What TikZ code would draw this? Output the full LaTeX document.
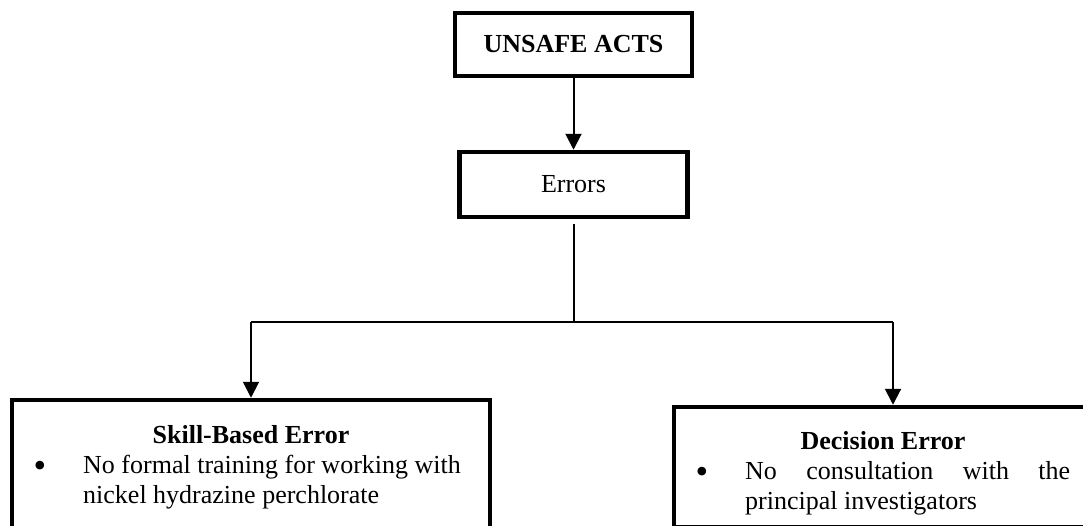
\documentclass[tikz,border=0pt]{standalone}
\usepackage{fontspec}
\setmainfont{Liberation Serif}
\usetikzlibrary{arrows.meta,calc}
\begin{document}
\begin{tikzpicture}[x=1pt,y=-1pt,
  box/.style={draw, line width=4.5pt, rectangle, inner sep=0pt},
  conn/.style={line width=2pt, -{Triangle[width=16pt,length=16pt]}},
  link/.style={line width=2pt},
  txt/.style={font=\fontsize{26}{30}\selectfont, inner sep=0pt},
  bul/.style={font=\fontsize{36}{36}\selectfont, inner sep=0pt}]
\useasboundingbox (0,0) rectangle (1083,525);
\fill[white] (0,0) rectangle (1083,525);
% top boxes
\node[box, txt, minimum width=237pt, minimum height=63pt] (unsafe) at (573.5,44.5) {\textbf{UNSAFE ACTS}};
\node[box, txt, minimum width=228pt, minimum height=65pt] (errors) at (573.5,184.5) {Errors};
% bottom boxes
\node[box, minimum width=478pt, minimum height=170pt] (skill) at (251,485) {};
\node[box, minimum width=418pt, minimum height=120pt] (decision) at (883,467) {};
% left box text
\node[txt, anchor=base] (skilltitle) at (251,443) {\textbf{Skill-Based Error}};
\node[bul, anchor=base] (skillbullet) at (40,477) {\textbullet};
\node[txt, anchor=base west] (skillline1) at (83,473) {No formal training for working with};
\node[txt, anchor=base west] (skillline2) at (83,503) {nickel hydrazine perchlorate};
% right box text
\node[txt, anchor=base] (dectitle) at (883,449) {\textbf{Decision Error}};
\node[bul, anchor=base] (decbullet) at (702,483) {\textbullet};
\node[txt, anchor=base west] (decline1) at (745,479) {\makebox[325pt][s]{No consultation with the}};
\node[txt, anchor=base west] (decline2) at (745,509) {principal investigators};
% connectors
\coordinate (stem) at ($(errors.south)+(0,5)$);
\coordinate (split) at (573.5,322);
\coordinate (lsplit) at (251,322);
\coordinate (rsplit) at (893,322);
\draw[conn] (unsafe.south) -- (errors.north);
\draw[link] (stem) -- (split);
\draw[line width=1.5pt] (lsplit) -- (rsplit);
\draw[conn] (lsplit) -- (skill.north);
\draw[conn] (rsplit) -- (rsplit |- decision.north);
\end{tikzpicture}
\end{document}
